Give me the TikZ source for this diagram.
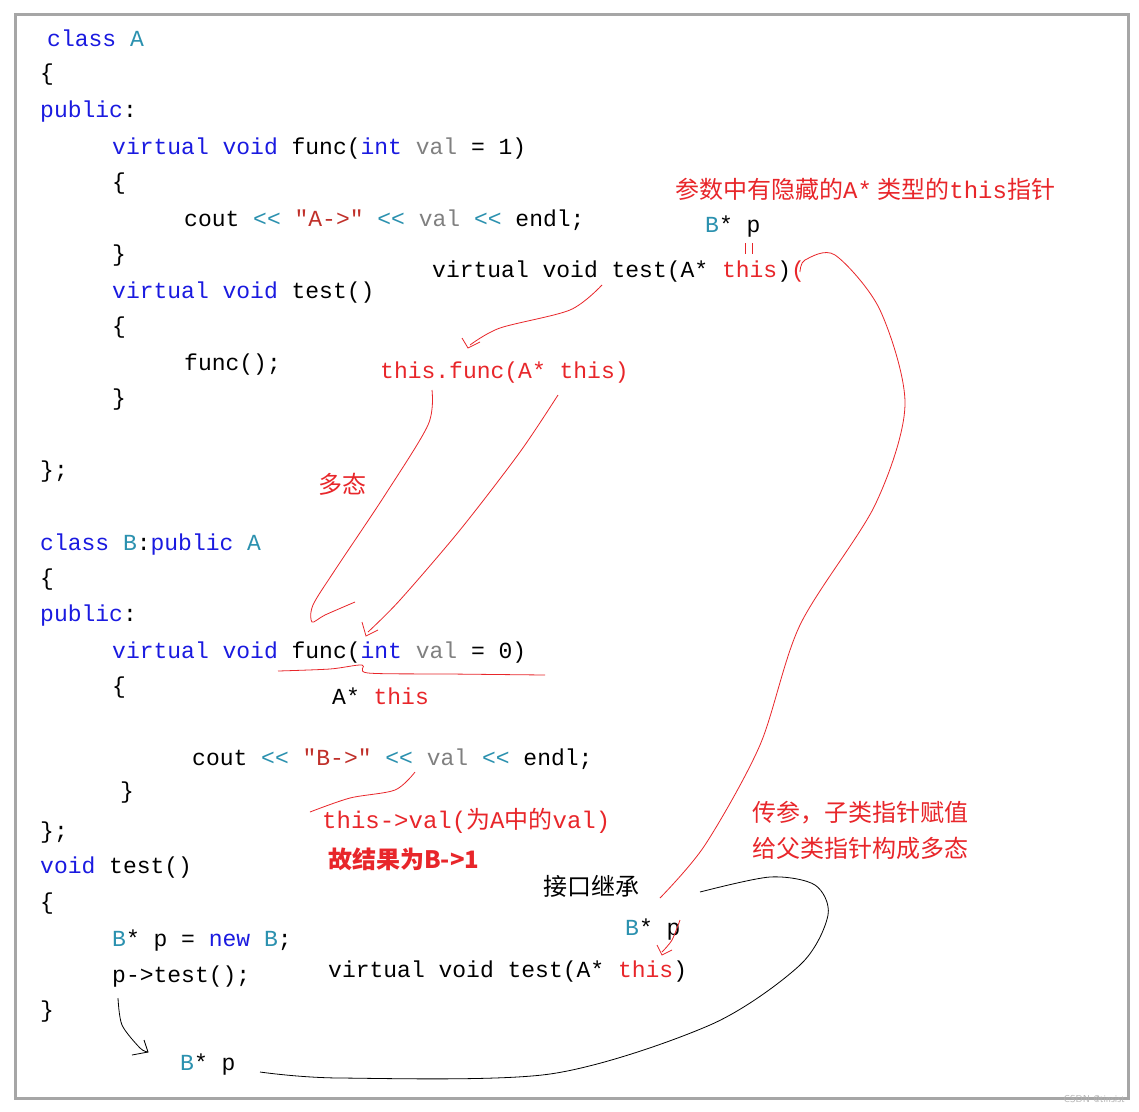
\documentclass[tikz,border=0pt]{standalone}
\usepackage{fontspec}
\setmonofont{Liberation Mono}
\newfontfamily\cjk{Noto Sans CJK SC}
\definecolor{kw}{HTML}{1A1AE0}
\definecolor{cls}{HTML}{2B91AF}
\definecolor{gv}{HTML}{808080}
\definecolor{str}{HTML}{C0302A}
\definecolor{an}{HTML}{E8262A}
\newcommand\tw[1]{{\ttfamily #1}}
\begin{document}
\begin{tikzpicture}[x=1pt,y=-1pt,
  cd/.style={anchor=base west,inner sep=0pt,font=\ttfamily\fontsize{23}{23}\selectfont},
  zh/.style={anchor=base west,inner sep=0pt,font=\cjk\fontsize{24}{24}\selectfont,text=an},
  rl/.style={draw=an,line width=0.8pt},
  bl/.style={draw=black,line width=0.8pt}]
\fill[white] (0,0) rectangle (1139,1111);
\useasboundingbox (0,0) rectangle (1139,1111);
\draw[gray!70,line width=3pt] (15,14) rectangle (1128,1098);
% class A
\node[cd] (l1) at (47,46) {\textcolor{kw}{class} \textcolor{cls}{A}};
\node[cd] (l2) at (40,80) {\{};
\node[cd] (l3) at (40,117) {\textcolor{kw}{public}:};
\node[cd] (l4) at (112,154) {\textcolor{kw}{virtual void} func(\textcolor{kw}{int} \textcolor{gv}{val} = 1)};
\node[cd] (l5) at (112,189) {\{};
\node[cd] (l6) at (184,226) {cout \textcolor{cls}{<<} \textcolor{str}{"A->"} \textcolor{cls}{<<} \textcolor{gv}{val} \textcolor{cls}{<<} endl;};
\node[cd] (l7) at (112,261) {\}};
\node[cd] (l8) at (112,298) {\textcolor{kw}{virtual void} test()};
\node[cd] (l9) at (112,333) {\{};
\node[cd] (l10) at (184,370) {func();};
\node[cd] (l11) at (112,405) {\}};
\node[cd] (l12) at (40,477) {\};};
% class B
\node[cd] (m1) at (40,550) {\textcolor{kw}{class} \textcolor{cls}{B}:\textcolor{kw}{public} \textcolor{cls}{A}};
\node[cd] (m2) at (40,585) {\{};
\node[cd] (m3) at (40,621) {\textcolor{kw}{public}:};
\node[cd] (m4) at (112,658) {\textcolor{kw}{virtual void} func(\textcolor{kw}{int} \textcolor{gv}{val} = 0)};
\node[cd] (m5) at (112,693) {\{};
\node[cd] (m6) at (192,765) {cout \textcolor{cls}{<<} \textcolor{str}{"B->"} \textcolor{cls}{<<} \textcolor{gv}{val} \textcolor{cls}{<<} endl;};
\node[cd] (m7) at (120,798) {\}};
\node[cd] (m8) at (40,838) {\};};
\node[cd] (n1) at (40,873) {\textcolor{kw}{void} test()};
\node[cd] (n2) at (40,909) {\{};
\node[cd] (n3) at (112,946) {\textcolor{cls}{B}* p = \textcolor{kw}{new} \textcolor{cls}{B};};
\node[cd] (n4) at (112,982) {p->test();};
\node[cd] (n5) at (40,1017) {\}};
\node[cd] (n6) at (180,1070) {\textcolor{cls}{B}* p};
% annotations
\node[zh] (a1) at (675,198) {参数中有隐藏的\tw{A*} 类型的\tw{this}指针};
\node[cd] (a2) at (705,232) {\textcolor{cls}{B}* p};
\node[cd] (a3) at (432,277) {virtual void test(A* \textcolor{an}{this})\textcolor{an}{(}};
\node[cd,text=an] (a4) at (380,378) {this.func(A* this)};
\node[zh] (a5) at (318,493) {多态};
\node[cd] (a6) at (332,704) {A* \textcolor{an}{this}};
\node[zh] (a7) at (322,828) {\tw{this->val(}为\tw{A}中的\tw{val)}};
\node[zh,font=\cjk\bfseries\fontsize{24}{24}\selectfont] (a8) at (328,868) {故结果为B->1};
\node[zh] (a9) at (752,821) {传参，子类指针赋值};
\node[zh] (a10) at (752,857) {给父类指针构成多态};
\node[zh,text=black] (a11) at (543,895) {接口继承};
\node[cd] (a12) at (625,935) {\textcolor{cls}{B}* p};
\node[cd] (a13) at (328,977) {virtual void test(A* \textcolor{an}{this})};
\node[anchor=base east,inner sep=0pt,font=\sffamily\fontsize{10}{10}\selectfont,text=gray!60] (wm) at (1125,1102) {CSDN @tinsist};
% red strokes
\draw[rl] plot[smooth] coordinates {(602,285) (570,310) (500,328) (470,345)};
\draw[rl] (462,338) -- (468,348) -- (480,342);
\draw[rl] plot[smooth] coordinates {(432,390) (428,425) (385,495) (335,570) (313,605) (312,622) (325,615) (355,602)};
\draw[rl] plot[smooth] coordinates {(558,395) (520,452) (460,530) (400,600) (368,632)};
\draw[rl] (362,622) -- (366,636) -- (378,630);
\draw[rl] plot[smooth] coordinates {(278,671) (330,669) (362,665) (368,673) (450,674) (545,675)};
\draw[rl] plot[smooth] coordinates {(415,772) (395,790) (350,798) (310,812)};
\draw[rl] plot[smooth] coordinates {(660,898) (705,845) (760,745) (800,625) (875,505) (905,405) (880,310) (835,255) (805,260) (800,272)};
\draw[rl] (745,243) -- (745,254) (752,243) -- (752,254);
\draw[rl] plot[smooth] coordinates {(680,920) (672,940) (662,952)};
\draw[rl] (657,945) -- (662,955) -- (672,950);
% black strokes
\draw[bl] plot[smooth] coordinates {(118,998) (122,1025) (140,1048) (148,1052)};
\draw[bl] (132,1055) -- (148,1052) -- (144,1040);
\draw[bl] plot[smooth] coordinates {(260,1072) (340,1078) (550,1074) (710,1025) (800,965) (828,915) (815,885) (770,877) (700,892)};
\end{tikzpicture}
\end{document}
